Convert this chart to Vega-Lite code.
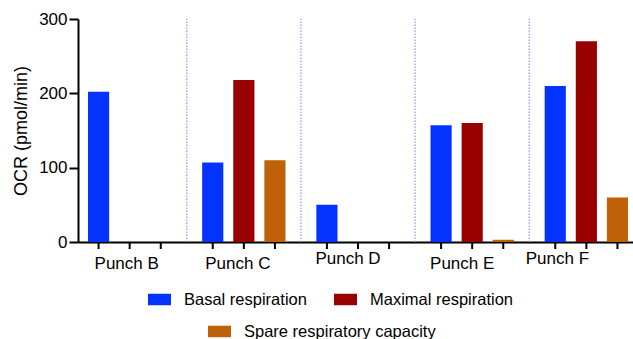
{
  "$schema": "https://vega.github.io/schema/vega-lite/v6.json",
  "width": 555,
  "height": 223,
  "autosize": "none",
  "padding": {"left": 78, "top": 19, "right": 0, "bottom": 97},
  "config": {
    "view": {"stroke": null},
    "font": "Liberation Sans",
    "axis": {"grid": false}
  },
  "datasets": {
    "ocr": [
      {"group": "Punch B", "series": "Basal respiration", "value": 202},
      {"group": "Punch B", "series": "Maximal respiration", "value": 0},
      {"group": "Punch B", "series": "Spare respiratory capacity", "value": 0},
      {"group": "Punch C", "series": "Basal respiration", "value": 107},
      {"group": "Punch C", "series": "Maximal respiration", "value": 218},
      {"group": "Punch C", "series": "Spare respiratory capacity", "value": 110},
      {"group": "Punch D", "series": "Basal respiration", "value": 50},
      {"group": "Punch D", "series": "Maximal respiration", "value": 0},
      {"group": "Punch D", "series": "Spare respiratory capacity", "value": 0},
      {"group": "Punch E", "series": "Basal respiration", "value": 157},
      {"group": "Punch E", "series": "Maximal respiration", "value": 160},
      {"group": "Punch E", "series": "Spare respiratory capacity", "value": 3},
      {"group": "Punch F", "series": "Basal respiration", "value": 210},
      {"group": "Punch F", "series": "Maximal respiration", "value": 270},
      {"group": "Punch F", "series": "Spare respiratory capacity", "value": 60}
    ],
    "sep": [
      {"group": "Punch C"},
      {"group": "Punch D"},
      {"group": "Punch E"},
      {"group": "Punch F"}
    ]
  },
  "layer": [
    {
      "data": {"name": "ocr"},
      "transform": [{"filter": "datum.series != 'Spare respiratory capacity'"}],
      "mark": {"type": "bar"},
      "encoding": {
        "x": {
          "field": "group",
          "type": "nominal",
          "sort": null,
          "scale": {
            "domain": ["Punch B", "Punch C", "Punch D", "Punch E", "Punch F"],
            "paddingInner": 0.183,
            "paddingOuter": 0.022,
            "align": 1
          },
          "axis": {
            "title": null,
            "ticks": false,
            "labelAngle": 0,
            "labelFontSize": 17,
            "labelColor": "black",
            "domainColor": "black",
            "domainWidth": 2,
            "labelPadding": {"expr": "datum.value == 'Punch D' || datum.value == 'Punch F' ? 8 : 13"},
            "labelOffset": {"expr": "datum.value == 'Punch B' ? -3 : datum.value == 'Punch C' ? -6 : datum.value == 'Punch F' ? -29 : -10"}
          }
        },
        "xOffset": {
          "field": "series",
          "type": "nominal",
          "scale": {
            "domain": ["Basal respiration", "Maximal respiration", "Spare respiratory capacity"],
            "paddingInner": 0.32,
            "paddingOuter": 0.16
          }
        },
        "y": {
          "field": "value",
          "type": "quantitative",
          "scale": {"domain": [0, 300], "nice": false},
          "axis": {
            "title": "OCR (pmol/min)",
            "values": [0, 100, 200, 300],
            "labelFontSize": 17,
            "labelColor": "black",
            "labelPadding": 2,
            "tickSize": 9,
            "tickWidth": 2,
            "tickColor": "black",
            "domainColor": "black",
            "domainWidth": 2,
            "titleFontSize": 18,
            "titleFontWeight": "normal",
            "titleColor": "black",
            "titlePadding": 8
          }
        },
        "color": {
          "field": "series",
          "type": "nominal",
          "scale": {
            "domain": ["Basal respiration", "Maximal respiration"],
            "range": ["#0433ff", "#990000"]
          },
          "legend": {
            "orient": "none",
            "legendX": 70,
            "legendY": 269,
            "direction": "horizontal",
            "title": null,
            "padding": 0,
            "symbolType": "M-1,-0.5H1V0.5H-1Z",
            "symbolSize": 529,
            "symbolStrokeWidth": 0,
            "labelFontSize": 16.5,
            "labelColor": "black",
            "labelOffset": 13,
            "columnPadding": 27,
            "labelLimit": 300
          }
        }
      }
    },
    {
      "data": {"name": "ocr"},
      "transform": [{"filter": "datum.series == 'Spare respiratory capacity'"}],
      "mark": {"type": "bar"},
      "encoding": {
        "x": {"field": "group", "type": "nominal", "title": null},
        "xOffset": {"field": "series", "type": "nominal"},
        "y": {"field": "value", "type": "quantitative"},
        "fill": {
          "field": "series",
          "type": "nominal",
          "scale": {
            "domain": ["Spare respiratory capacity"],
            "range": ["#bf6107"]
          },
          "legend": {
            "orient": "none",
            "legendX": 130,
            "legendY": 301,
            "direction": "horizontal",
            "title": null,
            "padding": 0,
            "symbolType": "M-1,-0.5H1V0.5H-1Z",
            "symbolSize": 529,
            "symbolStrokeWidth": 0,
            "labelFontSize": 16.5,
            "labelColor": "black",
            "labelOffset": 13,
            "labelLimit": 300
          }
        }
      }
    },
    {
      "data": {"name": "sep"},
      "mark": {"type": "rule", "xOffset": -10.45, "strokeDash": [1.5, 1.5], "color": "#a8a8f2", "strokeWidth": 1.5},
      "encoding": {
        "x": {"field": "group", "type": "nominal", "bandPosition": 0, "title": null},
        "y": {"datum": 0},
        "y2": {"datum": 300}
      }
    },
    {
      "data": {"name": "ocr"},
      "mark": {"type": "rule", "y2Offset": 7, "strokeWidth": 2, "color": "black"},
      "encoding": {
        "x": {"field": "group", "type": "nominal", "title": null},
        "xOffset": {"field": "series", "type": "nominal"},
        "y": {"datum": 0},
        "y2": {"datum": 0}
      }
    }
  ]
}
